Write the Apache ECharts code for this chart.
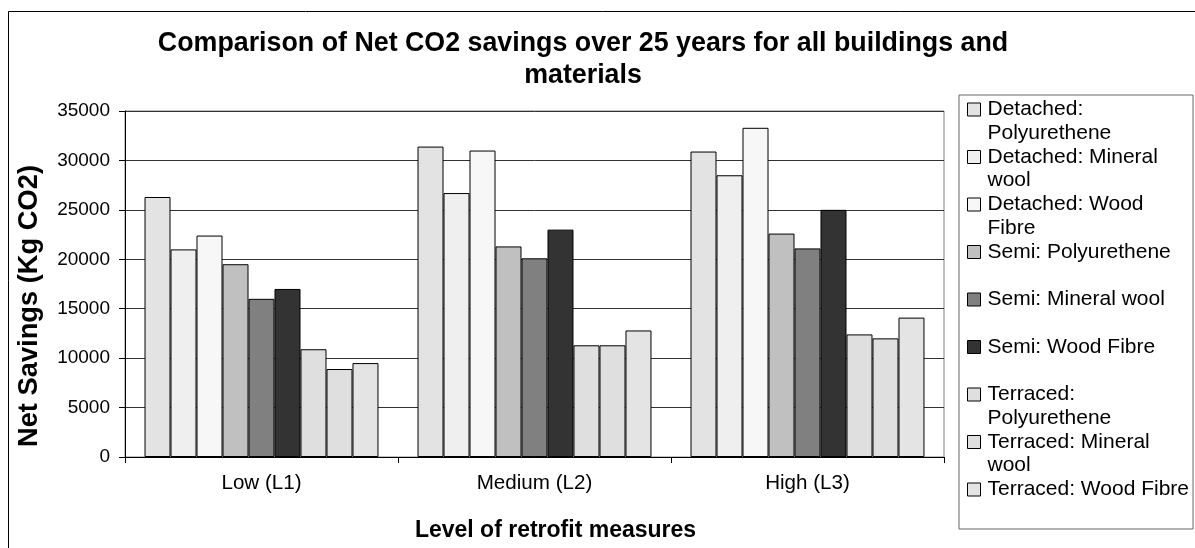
<!DOCTYPE html>
<html>
<head>
<meta charset="utf-8">
<script src="https://cdn.jsdelivr.net/npm/echarts@6/dist/echarts.min.js"></script>
<style>
html, body { margin: 0; padding: 0; background: #ffffff; }
#chart { width: 1195px; height: 548px; }
</style>
</head>
<body>
<div id="chart"></div>
<script>
// ---- Data ----
const categories = ['Low (L1)', 'Medium (L2)', 'High (L3)'];
const yTicks = [0, 5000, 10000, 15000, 20000, 25000, 30000, 35000];

const detachedPolyurethene = [26300, 31400, 30900];
const detachedMineralWool  = [21000, 26700, 28500];
const detachedWoodFibre    = [22400, 31000, 33300];
const semiPolyurethene     = [19500, 21300, 22600];
const semiMineralWool      = [16000, 20100, 21100];
const semiWoodFibre        = [17000, 23000, 25000];
const terracedPolyurethene = [10900, 11300, 12400];
const terracedMineralWool  = [8900, 11300, 12000];
const terracedWoodFibre    = [9500, 12800, 14100];

const seriesNames = [
  'Detached: Polyurethene', 'Detached: Mineral wool', 'Detached: Wood Fibre',
  'Semi: Polyurethene', 'Semi: Mineral wool', 'Semi: Wood Fibre',
  'Terraced: Polyurethene', 'Terraced: Mineral wool', 'Terraced: Wood Fibre'
];
const legendLabels = [
  'Detached:\nPolyurethene', 'Detached: Mineral\nwool', 'Detached: Wood\nFibre',
  'Semi: Polyurethene\n ', 'Semi: Mineral wool\n ', 'Semi: Wood Fibre\n ',
  'Terraced:\nPolyurethene', 'Terraced: Mineral\nwool', 'Terraced: Wood Fibre\n '
];
const seriesValues = [
  detachedPolyurethene, detachedMineralWool, detachedWoodFibre,
  semiPolyurethene, semiMineralWool, semiWoodFibre,
  terracedPolyurethene, terracedMineralWool, terracedWoodFibre
];

// ---- Styles ----
const seriesColors = ['#e3e3e3', '#efefef', '#f7f7f7', '#c0c0c0', '#808080', '#333333', '#dfdfdf', '#dfdfdf', '#e4e4e4'];
const FONT = "'Liberation Sans', Arial, sans-serif";

const chart = echarts.init(document.getElementById('chart'), null, { renderer: 'canvas' });

const series = seriesNames.map((name, i) => ({
  name: name,
  type: 'bar',
  data: seriesValues[i],
  barGap: '0%',
  barCategoryGap: '14.3%',
  itemStyle: { color: seriesColors[i], borderColor: '#000000', borderWidth: 1 },
  emphasis: { disabled: true },
  animation: false
}));

const option = {
  animation: false,
  backgroundColor: '#ffffff',
  title: {
    text: 'Comparison of Net CO2 savings over 25 years for all buildings and\nmaterials',
    left: 583,
    top: 28,
    padding: 0,
    textAlign: 'center',
    textStyle: {
      fontFamily: FONT, fontSize: 26.8, fontWeight: 'bold', color: '#000000', lineHeight: 32
    }
  },
  graphic: [{
    type: 'rect',
    shape: { x: 8.5, y: 11.5, width: 1300, height: 700 },
    style: { fill: 'none', stroke: '#000000', lineWidth: 1 },
    silent: true,
    z: -10
  }],
  legend: {
    orient: 'vertical',
    left: 959,
    top: 95,
    padding: [2, 4, 3.5, 8],
    itemGap: -1,
    itemWidth: 15,
    itemHeight: 47.5,
    icon: 'path://M0,5.5L13,5.5L13,18.5L0,18.5Z M0,0L0,0 M15,47.5L15,47.5',
    itemStyle: { borderWidth: 1, borderColor: '#000000' },
    backgroundColor: '#ffffff',
    borderColor: '#666666',
    borderWidth: 1,
    selectedMode: false,
    data: seriesNames,
    formatter: function (name) { return legendLabels[seriesNames.indexOf(name)]; },
    textStyle: { fontFamily: FONT, fontSize: 21, color: '#000000', lineHeight: 23.5 }
  },
  grid: {
    left: 125, right: 251, top: 111, bottom: 91,
    containLabel: false,
    outerBoundsMode: 'none',
    show: true,
    borderColor: '#808080',
    borderWidth: 1,
    backgroundColor: '#ffffff'
  },
  xAxis: {
    type: 'category',
    data: categories,
    name: 'Level of retrofit measures',
    nameLocation: 'middle',
    nameGap: 62,
    nameTextStyle: { fontFamily: FONT, fontSize: 23, fontWeight: 'bold', color: '#000000', padding: [0, 0, 0, 42] },
    axisLine: { show: true, lineStyle: { color: '#000000', width: 1 } },
    axisTick: { show: true, alignWithLabel: false, length: 6, inside: false, lineStyle: { color: '#000000' } },
    axisLabel: { fontFamily: FONT, fontSize: 20.6, color: '#000000', margin: 16 },
    splitLine: { show: false }
  },
  yAxis: {
    type: 'value',
    min: 0,
    max: 35000,
    interval: 5000,
    name: 'Net Savings (Kg CO2)',
    nameLocation: 'middle',
    nameGap: 82,
    nameTextStyle: { fontFamily: FONT, fontSize: 27.3, fontWeight: 'bold', color: '#000000', padding: [0, 44, 0, 0] },
    axisLine: { show: true, lineStyle: { color: '#000000', width: 1 } },
    axisTick: { show: true, length: 6, inside: false, lineStyle: { color: '#000000' } },
    axisLabel: {
      fontFamily: FONT, fontSize: 19, color: '#000000', margin: 15,
      formatter: function (v) { return yTicks.indexOf(v) >= 0 ? String(v) : ''; }
    },
    splitLine: { show: true, lineStyle: { color: '#333333', width: 1 } }
  },
  series: series
};

chart.setOption(option);
</script>
</body>
</html>
